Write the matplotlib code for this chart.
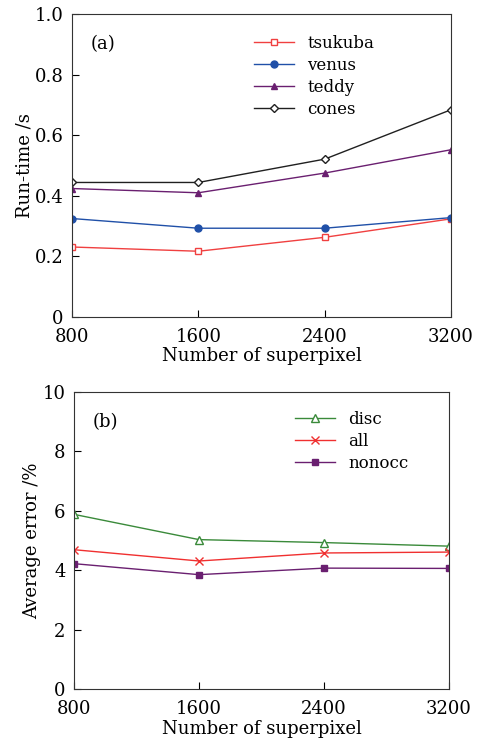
import matplotlib
matplotlib.use("Agg")
import matplotlib.pyplot as plt

plt.rcParams['font.family'] = ['DejaVu Serif']

superpixel = [800, 1600, 2400, 3200]

# run-time (s)
tsukuba = [0.231, 0.217, 0.263, 0.324]
venus = [0.325, 0.293, 0.293, 0.328]
teddy = [0.424, 0.410, 0.475, 0.552]
cones = [0.444, 0.444, 0.521, 0.684]

# average error (%)
disc = [5.88, 5.03, 4.93, 4.81]
all_err = [4.69, 4.31, 4.58, 4.61]
nonocc = [4.22, 3.85, 4.07, 4.06]

fig = plt.figure(figsize=(4.78, 7.43), dpi=100)
ax1 = fig.add_axes([72/478, 1-317/743, 379/478, 303/743])
ax2 = fig.add_axes([74/478, 1-689/743, 375/478, 297/743])

fs = 13

ax1.plot(superpixel, tsukuba, color='#f04040', lw=1, marker='s', ms=5, mfc='white', mec='#f04040', label='tsukuba')
ax1.plot(superpixel, venus, color='#2050a8', lw=1, marker='o', ms=5, label='venus')
ax1.plot(superpixel, teddy, color='#6a1f70', lw=1, marker='^', ms=5, label='teddy')
ax1.plot(superpixel, cones, color='#202020', lw=1, marker='D', ms=4.5, mfc='white', mec='#202020', label='cones')
ax1.set_ylim(0, 1.0)
ax1.set_yticks([0, 0.2, 0.4, 0.6, 0.8, 1.0])
ax1.set_yticklabels(['0', '0.2', '0.4', '0.6', '0.8', '1.0'])
ax1.set_ylabel('Run-time /s', fontsize=fs, labelpad=1)
ax1.text(0.05, 0.93, '(a)', transform=ax1.transAxes, fontsize=fs, va='top')
ax1.legend(loc='upper left', bbox_to_anchor=(0.48, 0.93), frameon=False, fontsize=12,
           handlelength=2.4, labelspacing=0.3, borderaxespad=0, borderpad=0)

ax2.plot(superpixel, disc, color='#3a8a3a', lw=1, marker='^', ms=6, mfc='white', mec='#3a8a3a', label='disc')
ax2.plot(superpixel, all_err, color='#f03030', lw=1, marker='x', ms=6, label='all')
ax2.plot(superpixel, nonocc, color='#6a1f70', lw=1, marker='s', ms=4.5, label='nonocc')
ax2.set_ylim(0, 10)
ax2.set_yticks([0, 2, 4, 6, 8, 10])
ax2.set_ylabel('Average error /%', fontsize=fs, labelpad=1)
ax2.text(0.05, 0.93, '(b)', transform=ax2.transAxes, fontsize=fs, va='top')
ax2.legend(loc='upper left', bbox_to_anchor=(0.59, 0.935), frameon=False, fontsize=12,
           handlelength=2.4, labelspacing=0.3, borderaxespad=0, borderpad=0)

for ax in (ax1, ax2):
    ax.set_xlim(800, 3200)
    ax.set_xticks(superpixel)
    ax.set_xlabel('Number of superpixel', fontsize=fs, labelpad=1)
    ax.tick_params(direction='in', labelsize=fs, length=5, top=False, right=False)
    ax.tick_params(axis='x', pad=8)
    ax.tick_params(axis='y', pad=6)
    for s in ax.spines.values():
        s.set_color('#333333')

fig.savefig('out.png', dpi=100)
